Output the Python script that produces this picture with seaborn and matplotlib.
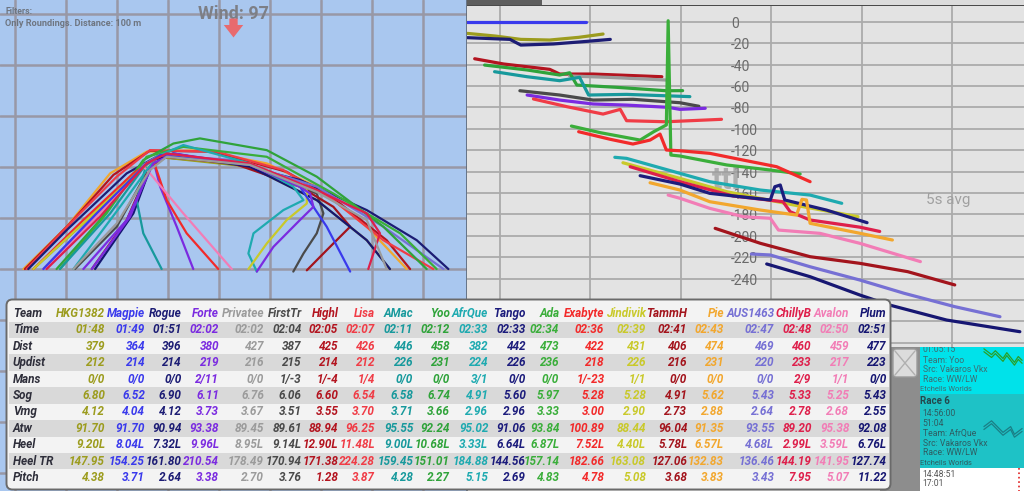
import numpy as np
import pandas as pd
import matplotlib
matplotlib.use('Agg')
import matplotlib.pyplot as plt
from matplotlib.patches import FancyBboxPatch, Rectangle
from matplotlib.transforms import blended_transform_factory
import seaborn as sns

# ---------------- data ----------------
teams = ['HKG1382', 'Magpie', 'Rogue', 'Forte', 'Privatee', 'FirstTr', 'Highl', 'Lisa', 'AMac',
         'Yoo', 'AfrQue', 'Tango', 'Ada', 'Exabyte', 'Jindivik', 'TammH', 'Pie', 'AUS1463',
         'ChillyB', 'Avalon', 'Plum']
row_names = ['Time', 'Dist', 'Updist', 'Mans', 'Sog', 'Vmg', 'Atw', 'Heel', 'Heel TR', 'Pitch']
time_vals = ['01:48', '01:49', '01:51', '02:02', '02:02', '02:04', '02:05', '02:07', '02:11', '02:12',
             '02:33', '02:33', '02:34', '02:36', '02:39', '02:41', '02:43', '02:47', '02:48', '02:50', '02:51']
dist_vals = [379, 364, 396, 380, 427, 387, 425, 426, 446, 458, 382, 442, 473, 422, 431, 406, 474,
             469, 460, 459, 477]
updist_vals = [212, 214, 214, 219, 216, 215, 214, 212, 226, 231, 224, 226, 236, 218, 226, 216, 231,
               220, 233, 217, 223]
mans_vals = ['0/0', '0/0', '0/0', '2/11', '0/0', '1/-3', '1/-4', '1/4', '0/0', '0/0', '3/1', '0/0',
             '0/0', '1/-23', '1/1', '0/0', '0/0', '0/0', '2/9', '1/1', '0/0']
sog_vals = [6.80, 6.52, 6.90, 6.11, 6.76, 6.06, 6.60, 6.54, 6.58, 6.74, 4.91, 5.60, 5.97, 5.28, 5.28,
            4.91, 5.62, 5.43, 5.33, 5.25, 5.43]
vmg_vals = [4.12, 4.04, 4.12, 3.73, 3.67, 3.51, 3.55, 3.70, 3.71, 3.66, 2.96, 2.96, 3.33, 3.00, 2.90,
            2.73, 2.88, 2.64, 2.78, 2.68, 2.55]
atw_vals = [91.70, 91.70, 90.94, 93.38, 89.45, 89.61, 88.94, 96.25, 95.55, 92.24, 95.02, 91.06, 93.84,
            100.89, 88.44, 96.04, 91.35, 93.55, 89.20, 95.38, 92.08]
heel_vals = [9.20, 8.04, 7.32, 9.96, 8.95, 9.14, 12.90, 11.48, 9.00, 10.68, 3.33, 6.64, 6.87, 7.52,
             4.40, 5.78, 6.57, 4.68, 2.99, 3.59, 6.76]
heeltr_vals = [147.95, 154.25, 161.80, 210.54, 178.49, 170.94, 171.38, 224.28, 159.45, 151.01, 184.88,
               144.56, 157.14, 182.66, 163.08, 127.06, 132.83, 136.46, 144.19, 141.95, 127.74]
pitch_vals = [4.38, 3.71, 2.64, 3.38, 2.70, 3.76, 1.28, 3.87, 4.28, 2.27, 5.15, 2.69, 4.83, 4.78, 5.08,
              3.68, 3.83, 3.43, 7.95, 5.07, 11.22]

# gap chart (right): t in s, gap in m
gap_magpie = ([-3.6, 9.5], [-0.5, -0.5])
gap_hkg = ([-3.6, -0.5, 2.3, 5.5, 8.7, 11.4], [-10.9, -13.4, -16.5, -17.1, -14.6, -11.5])
gap_rogue = ([-3.6, 1.1, 2.3, 5.9, 9.1, 12.2], [-14.9, -16.5, -21.8, -20.8, -18.7, -16.5])
gap_highl = ([-2.8, 0.4, 5.5, 6.6, 10.3, 17.9], [-34.6, -39.5, -44.5, -48.9, -48.9, -51.4])
gap_privatee = ([7.7, 12.0, 18.4], [-50.7, -52.0, -54.5])
gap_yoo = ([-1.7, 3.0, 6.6, 7.7, 8.5, 12.9, 18.4, 20.2], [-40.5, -45.1, -49.8, -47.7, -59.2, -61.3, -64.5, -64.4])
gap_amac = ([-0.6, 3.0, 6.6, 8.8, 9.8, 14.0, 21.0], [-46.7, -51.4, -55.1, -52.0, -68.5, -67.9, -70.0])
gap_firsttr = ([2.2, 6.6, 10.3, 14.7, 19.9, 22.0], [-64.5, -68.5, -73.2, -72.5, -75.7, -79.0])
gap_forte = ([3.0, 6.6, 10.3, 14.0, 18.6, 19.9, 22.7], [-68.5, -73.2, -76.9, -77.9, -80.0, -81.9, -80.9])
gap_lisa = ([3.7, 7.4, 11.4, 13.3, 14.0, 18.4, 24.5], [-72.2, -79.4, -86.3, -81.9, -92.5, -93.5, -91.2])
gap_ada = ([7.9, 11.1, 15.5, 17.0, 18.4, 18.6, 18.9, 19.9, 25.1, 29.9, 33.2],
           [-97.5, -103.7, -110.6, -102.8, -96.5, 0.9, -124.6, -125.5, -133.9, -138.6, -142.3])
gap_exabyte = ([8.7, 12.2, 14.7, 16.6, 17.7, 18.4, 19.9, 23.2, 26.9, 30.6, 34.3],
               [-102.8, -109.9, -114.3, -110.6, -105.0, -119.9, -120.6, -123.0, -129.3, -135.5, -149.5])
gap_afrque = ([12.7, 14.0, 19.9, 23.2, 28.8, 34.3, 37.8], [-126.7, -127.7, -141.7, -149.5, -157.3, -162.0, -169.7])
gap_jindivik = ([13.6, 19.9, 25.1, 32.5, 39.6], [-131.8, -146.4, -158.9, -171.3, -182.2])
gap_chillyb = ([14.4, 19.9, 25.8, 31.3, 32.1, 34.3, 39.8, 42.0],
               [-135.5, -149.5, -162.9, -168.2, -177.6, -185.3, -192.0, -196.0])
gap_tango = ([15.5, 19.9, 23.2, 29.9, 30.4, 31.0, 31.5, 36.1, 40.6],
             [-143.9, -151.7, -160.4, -166.6, -154.2, -152.6, -166.6, -176.0, -187.8])
gap_pie = ([16.6, 19.9, 23.2, 28.8, 32.8, 33.4, 33.9, 34.3, 39.8, 43.4],
           [-150.5, -157.3, -168.2, -176.0, -180.7, -166.0, -166.6, -188.4, -197.7, -204.0])
gap_avalon = ([18.6, 19.9, 23.2, 26.9, 29.9, 30.8, 35.4, 39.8, 46.5],
              [-162.0, -165.0, -174.4, -182.2, -183.7, -194.7, -197.8, -207.1, -224.2])
gap_tammh = ([23.8, 28.8, 34.3, 39.8, 45.1, 50.3], [-193.1, -207.1, -219.6, -225.8, -233.6, -246.0])
gap_aus1463 = ([27.8, 29.9, 34.3, 39.8, 44.7, 50.3, 55.3], [-217.1, -218.0, -229.0, -241.4, -253.8, -266.3, -275.7])
gap_plum = ([29.5, 34.3, 39.8, 43.1, 49.4, 57.5], [-226.4, -238.3, -255.4, -264.8, -278.8, -289.7])

# mark roundings (left): x, y in m
trk_pie = [(3.3, 0), (20.3, 16.6), (37.3, 37.5), (51.6, 46.0), (72.5, 46.6), (98.7, 41.4), (118.3, 32.3), (137.9, 16.6), (153.6, 0)]
trk_highl = [(3.9, 0), (21.6, 17.9), (38.6, 36.9), (52.9, 46.4), (77.8, 46.0), (106.5, 38.1), (127.4, 25.7), (145.7, 11.3), (154.9, 0)]
trk_lisa = [(4.6, 0), (24.2, 20.5), (39.9, 36.2), (52.9, 46.6), (79.1, 46.0), (105.2, 38.8), (124.8, 27.0), (144.4, 11.3), (164.0, 0)]
trk_rogue = [(5.2, 0), (20.3, 15.3), (43.8, 37.5), (55.5, 44.0), (85.6, 41.4), (111.7, 34.9), (137.9, 23.1), (157.5, 11.3), (169.9, 0)]
trk_hkg = [(7.2, 0), (26.8, 17.9), (46.4, 37.5), (55.5, 44.0), (92.1, 40.1), (118.3, 27.0), (137.9, 11.3), (147.0, 0)]
trk_aus1463 = [(11.1, 0), (30.7, 20.5), (49.0, 40.1), (56.9, 44.7), (85.6, 42.7), (118.3, 32.3), (144.4, 16.6), (168.0, 0)]
trk_yoo = [(16.3, 0), (33.3, 19.2), (50.3, 42.7), (62.1, 49.2), (72.5, 51.2), (98.7, 46.6), (118.3, 36.2), (144.4, 16.6), (161.4, 0)]
trk_ada = [(17.6, 0), (35.9, 21.8), (51.6, 44.0), (66.0, 47.9), (98.7, 44.0), (124.8, 29.6), (151.0, 14.0), (165.3, 0)]
trk_firsttr = [(23.5, 0), (39.9, 16.6), (52.9, 40.1), (59.5, 44.7), (92.1, 40.1), (118.3, 29.6), (120.9, 21.8), (118.3, 14.0), (113.1, 6.1), (109.1, -1.0)]
trk_tammh = [(30.1, 0), (43.8, 19.2), (52.9, 40.1), (59.5, 44.0), (85.6, 41.4), (111.7, 32.3), (124.8, 24.4), (131.4, 16.6), (122.2, 7.4), (114.4, -0.5)]
trk_plum = [(31.4, 0), (46.4, 21.8), (54.2, 42.7), (62.1, 45.3), (92.1, 40.1), (118.3, 27.0), (137.9, 11.3), (147.0, 0)]
trk_amac = [(17.6, 0), (37.3, 21.8), (51.6, 41.4), (47.7, 27.0), (50.3, 14.0), (57.5, 0)]
trk_forte = [(30.1, 0), (45.1, 20.5), (54.2, 42.7), (56.9, 32.3), (63.4, 16.6), (69.9, 0)]
trk_exabyte = [(7.2, 0), (26.8, 19.2), (46.4, 37.5), (54.2, 42.7), (59.5, 27.0), (67.3, 14.0), (79.7, 0)]
trk_avalon = [(11.1, 0), (30.7, 19.2), (50.3, 40.1), (52.9, 37.5), (66.0, 21.8), (85.0, 0)]
trk_afrque = [(22.9, 0), (41.2, 24.4), (55.5, 44.0), (66.0, 48.6), (92.1, 41.4), (109.1, 32.3), (113.1, 27.0), (105.2, 23.1), (93.5, 14.0), (91.5, 6.1), (94.8, -1.0)]
trk_jindivik = [(7.2, 0), (28.1, 19.2), (49.0, 38.8), (56.9, 44.7), (92.1, 41.4), (114.4, 30.9), (114.4, 25.7), (106.5, 19.2), (98.7, 10.0), (91.5, 0)]
trk_magpie = [(11.1, 0), (32.0, 21.8), (50.3, 40.1), (56.9, 44.7), (92.1, 40.8), (111.7, 32.3), (122.2, 16.6), (131.4, -1.0)]
trk_forte_b = [(26.8, 0), (43.8, 19.2), (54.2, 41.4), (62.1, 45.3), (92.1, 40.8), (111.7, 32.3), (115.7, 29.6), (117.0, 24.4), (111.7, 19.2), (101.3, 8.7), (94.8, -1.0)]
trk_chillyb = [(12.4, 0), (33.3, 20.5), (51.6, 41.4), (59.5, 45.3), (92.1, 41.4), (118.3, 30.9), (137.9, 21.8), (143.1, 14.0), (140.5, 6.1), (138.5, 0)]
trk_privatee = [(22.9, 0), (39.9, 17.9), (52.9, 38.8), (59.5, 44.0), (92.1, 40.8), (118.3, 30.2), (137.9, 19.2), (145.7, 0)]

wind_dir = 97

# little track previews in the race list
thumb_yoo_x = [0, 2, 3, 5, 6, 8, 9, 10]
thumb_yoo_y = [10, 7, 9, 5, 8, 3, 6, 4]
thumb_afrque_x = [0, 2, 4, 5, 7, 8, 10]
thumb_afrque_y = [6, 9, 5, 3, 6, 2, 5]

team_colors = {'HKG1382': '#9c9c1e', 'Magpie': '#3a3aec', 'Rogue': '#1c1c74', 'Forte': '#7b2be0',
               'Privatee': '#9b9b9b', 'FirstTr': '#4a4a4a', 'Highl': '#b3141f', 'Lisa': '#f03c46',
               'AMac': '#17999c', 'Yoo': '#2fa33a', 'AfrQue': '#1eaab0', 'Tango': '#1c1c7c',
               'Ada': '#3aae3a', 'Exabyte': '#f22a2a', 'Jindivik': '#c9c92a', 'TammH': '#a3141c',
               'Pie': '#f2a72e', 'AUS1463': '#7670d4', 'ChillyB': '#de1f4b', 'Avalon': '#f27db6',
               'Plum': '#161672'}

# ---------------- figure ----------------
sns.set_theme(style='white')
plt.rcParams['font.family'] = ['Roboto', 'DejaVu Sans']

W, H = 1024, 491
fig = plt.figure(figsize=(W / 100, H / 100), dpi=100, facecolor='#e3e3e3')


def rect(x0, y0, x1, y1):
    return [x0 / W, 1 - y1 / H, (x1 - x0) / W, (y1 - y0) / H]


# left panel: roundings
ax_l = fig.add_axes(rect(0, 0, 467, 491))
ax_l.set_facecolor('#a9c7ef')
trk = {'Pie': trk_pie, 'Highl': trk_highl, 'Lisa': trk_lisa, 'Rogue': trk_rogue, 'HKG1382': trk_hkg,
       'AUS1463': trk_aus1463, 'Yoo': trk_yoo, 'Ada': trk_ada, 'FirstTr': trk_firsttr, 'TammH': trk_tammh,
       'Plum': trk_plum, 'AMac': trk_amac, 'Forte': trk_forte, 'Exabyte': trk_exabyte, 'Avalon': trk_avalon,
       'AfrQue': trk_afrque, 'Jindivik': trk_jindivik, 'Magpie': trk_magpie, 'Forte (2)': trk_forte_b,
       'ChillyB': trk_chillyb, 'Privatee': trk_privatee}
trk_df = pd.concat([pd.DataFrame(pts, columns=['x', 'y']).assign(track=k) for k, pts in trk.items()])
trk_pal = {k: team_colors[k.split(' ')[0]] for k in trk}
sns.lineplot(data=trk_df, x='x', y='y', hue='track', palette=trk_pal, sort=False, estimator=None,
             legend=False, lw=1.6, ax=ax_l)
ax_l.set_xlim(-5.88, 177.2)
ax_l.set_ylim(-87.0, 105.45)
ax_l.set_xticks(np.arange(0, 161, 20))
ax_l.set_yticks(np.arange(-80, 101, 20))
ax_l.grid(True, color='#9898a6', lw=1.8)
ax_l.set_axisbelow(True)
ax_l.tick_params(length=0, labelbottom=False, labelleft=False)
ax_l.set_xlabel('')
ax_l.set_ylabel('')
for s in ['top', 'left', 'bottom']:
    ax_l.spines[s].set_visible(False)
ax_l.spines['right'].set_color('#5c6675')
ax_l.spines['right'].set_linewidth(1.2)
ax_l.text(0.011, 0.977, 'Filters:', transform=ax_l.transAxes, fontsize=6.3, color='#6e7580',
          ha='left', va='center', fontweight='bold')
ax_l.text(0.011, 0.953, 'Only Roundings. Distance: 100 m', transform=ax_l.transAxes, fontsize=6.6,
          color='#6e7580', ha='left', va='center', fontweight='bold')
ax_l.text(0.50, 0.971, f'Wind: {wind_dir}', transform=ax_l.transAxes, fontsize=13, color='#7d7f86',
          ha='center', va='center', fontweight='bold')
ax_l.annotate('', xy=(0.50, 0.918), xytext=(0.50, 0.968), xycoords='axes fraction',
              arrowprops=dict(arrowstyle='simple,head_width=1.4,head_length=0.9,tail_width=0.6',
                              color='#e86a6e', lw=0, mutation_scale=10), zorder=5)

# right panel: gap chart
ax_r = fig.add_axes(rect(467, 6, 1024, 347))
ax_r.set_facecolor('#e3e3e3')
gap = {'Magpie': gap_magpie, 'HKG1382': gap_hkg, 'Rogue': gap_rogue, 'Highl': gap_highl,
       'Privatee': gap_privatee, 'Yoo': gap_yoo, 'AMac': gap_amac, 'FirstTr': gap_firsttr,
       'Forte': gap_forte, 'Lisa': gap_lisa, 'Ada': gap_ada, 'Exabyte': gap_exabyte, 'AfrQue': gap_afrque,
       'Jindivik': gap_jindivik, 'ChillyB': gap_chillyb, 'Tango': gap_tango, 'Pie': gap_pie,
       'Avalon': gap_avalon, 'TammH': gap_tammh, 'AUS1463': gap_aus1463, 'Plum': gap_plum}
gap_df = pd.concat([pd.DataFrame({'t': tv[0], 'gap': tv[1], 'boat': k}) for k, tv in gap.items()])
sns.lineplot(data=gap_df, x='t', y='gap', hue='boat', palette=team_colors, sort=False, estimator=None,
             legend=False, lw=2.3, ax=ax_r, zorder=3)
ax_r.set_xlim(-3.65, 57.96)
ax_r.set_ylim(-304, 14.7)
ax_r.set_xticks(np.arange(0, 51, 10))
ax_r.set_yticks(np.arange(-300, 1, 20))
ax_r.grid(True, color='#ababab', lw=1.3)
ax_r.set_axisbelow(True)
ax_r.tick_params(length=0, labelbottom=False, labelleft=False)
ax_r.set_xlabel('')
ax_r.set_ylabel('')
for s in ax_r.spines.values():
    s.set_visible(False)
lbl_tr = blended_transform_factory(ax_r.transAxes, ax_r.transData)
for v in range(0, -241, -20):
    ax_r.text(0.474, v - 2, str(v), transform=lbl_tr, ha='left', va='center', fontsize=10,
              color='#6a6a6a', zorder=1)
ax_r.text(0.864, 0.431, '5s avg', transform=ax_r.transAxes, ha='center', va='center', fontsize=11,
          color='#a0a0a0')
ax_r.text(0.465, 0.49, 'ttl', transform=ax_r.transAxes, ha='center', va='center', fontsize=22,
          color='#9c9c9c', fontweight='bold', alpha=0.75, zorder=2)

# top tab strip
ax_top = fig.add_axes(rect(467, 0, 1024, 6))
ax_top.set_xlim(467, 1024)
ax_top.set_ylim(6, 0)
ax_top.axis('off')
ax_top.add_patch(Rectangle((467, 0), 557, 6, fc='#dcdcdc', ec='none'))
ax_top.add_patch(Rectangle((467, 0), 75, 6, fc='#5e5e5e', ec='none'))
ax_top.add_patch(Rectangle((467, 4.5), 557, 1.5, fc='#4a4a4a', ec='none'))

# race list at bottom right
ax_s = fig.add_axes(rect(880, 347, 1024, 491))
ax_s.set_xlim(880, 1024)
ax_s.set_ylim(491, 347)
ax_s.axis('off')
ax_s.add_patch(Rectangle((880, 347), 40, 144, fc='#8d8d8d', ec='none'))
ax_s.add_patch(Rectangle((920, 347), 104, 47, fc='#00e2ea', ec='none'))
ax_s.add_patch(Rectangle((920, 394), 104, 74, fc='#1ec2c6', ec='none'))
ax_s.add_patch(Rectangle((920, 468), 104, 23, fc='white', ec='none'))
ax_s.add_patch(FancyBboxPatch((893, 349), 24, 28, boxstyle='round,pad=0,rounding_size=3',
                              fc='#dcdcdc', ec='#9a9a9a', lw=1))
ax_s.plot([895, 915], [351, 375], color='#b0b0b0', lw=1)
ax_s.plot([895, 915], [375, 351], color='#b0b0b0', lw=1)
list_lines = [('01:05:15', 349, 6.2, 'normal', '#3e6d72'), ('Team: Yoo', 360, 6.2, 'normal', '#3e6d72'),
              ('Src: Vakaros Vkx', 369.5, 6.2, 'normal', '#3e6d72'), ('Race: WW/LW', 379, 6.2, 'normal', '#3e6d72'),
              ('Etchells Worlds', 389, 5.4, 'normal', '#3e6d72'), ('Race 6', 400.7, 7, 'bold', '#23484d'),
              ('14:56:00', 413, 6.2, 'normal', '#2f5c61'), ('51:04', 423, 6.2, 'normal', '#2f5c61'),
              ('Team: AfrQue', 433, 6.2, 'normal', '#2f5c61'), ('Src: Vakaros Vkx', 443, 6.2, 'normal', '#2f5c61'),
              ('Race: WW/LW', 452.5, 6.2, 'normal', '#2f5c61'), ('Etchells Worlds', 463, 5.4, 'normal', '#2f5c61'),
              ('14:48:51', 474, 6.2, 'normal', '#555555'), ('17:01', 483.5, 6.2, 'normal', '#555555')]
for txt, yy, fs, fw, col in list_lines:
    xx = 920.5 if fs < 6 or fw == 'bold' else 922.7
    ax_s.text(xx, yy, txt, ha='left', va='center', fontsize=fs, fontweight=fw, color=col, clip_on=True)

ax_th1 = fig.add_axes(rect(982, 348, 1024, 366))
ax_th1.axis('off')
ax_th1.plot(thumb_yoo_x, thumb_yoo_y, color='#28a028', lw=0.9)
ax_th1.plot(thumb_yoo_x, [y - 1.5 for y in thumb_yoo_y], color='#28a028', lw=0.9)
ax_th2 = fig.add_axes(rect(982, 420, 1024, 438))
ax_th2.axis('off')
ax_th2.plot(thumb_afrque_x, thumb_afrque_y, color='#1a7f86', lw=0.9)
ax_th2.plot(thumb_afrque_x, [y - 1.5 for y in thumb_afrque_y], color='#1a7f86', lw=0.9)
ax_s.plot([1019, 1019], [468, 491], color='#e02020', lw=1.2, ls=':')

# stats table
ax_t = fig.add_axes(rect(5, 298, 892, 491))
ax_t.set_xlim(5, 892)
ax_t.set_ylim(491, 298)
ax_t.axis('off')
ax_t.add_patch(FancyBboxPatch((6.5, 299.5), 884, 190, boxstyle='round,pad=0,rounding_size=6',
                              fc='#f3f3f3', ec='#6a6a6a', lw=1.4))
row_y = 313.3 + 16.43 * np.arange(11)
for i in [1, 3, 5, 7, 9]:
    ax_t.add_patch(Rectangle((8.5, row_y[i] - 8.2), 880, 16.4, fc='#d9d9d9', ec='none'))

col_right = [105, 145, 181.7, 219, 264, 301.7, 338.3, 375, 413.3, 450, 488.3, 526, 559.3, 604.3,
             646, 687.3, 724, 774.3, 811.7, 849.3, 886.7]
cells = [time_vals,
         [str(v) for v in dist_vals],
         [str(v) for v in updist_vals],
         mans_vals,
         [f'{v:.2f}' for v in sog_vals],
         [f'{v:.2f}' for v in vmg_vals],
         [f'{v:.2f}' for v in atw_vals],
         [f'{v:.2f}L' for v in heel_vals],
         [f'{v:.2f}' for v in heeltr_vals],
         [f'{v:.2f}' for v in pitch_vals]]
font_kw = dict(fontsize=8.5, fontweight='bold', fontstyle='italic', va='center')
ax_t.text(12.7, row_y[0], 'Team', ha='left', color='#2e2e3a', **font_kw)
for r, name in enumerate(row_names):
    ax_t.text(12.7, row_y[r + 1], name, ha='left', color='#2e2e3a', **font_kw)
for c, team in enumerate(teams):
    col = team_colors[team]
    ax_t.text(col_right[c], row_y[0], team, ha='right', color=col, **font_kw)
    for r in range(len(row_names)):
        ax_t.text(col_right[c], row_y[r + 1], cells[r][c], ha='right', color=col, **font_kw)

fig.savefig('out.png', dpi=100, facecolor=fig.get_facecolor())
